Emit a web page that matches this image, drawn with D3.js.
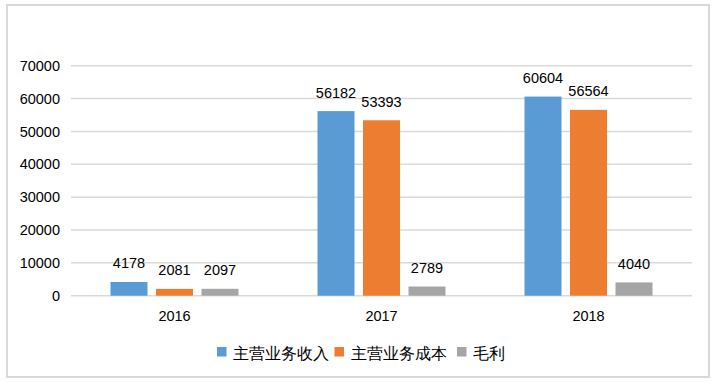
<!DOCTYPE html>
<html><head><meta charset="utf-8">
<script src="https://cdn.jsdelivr.net/npm/d3@7"></script>
<style>
html,body{margin:0;padding:0;background:#fff;}
svg text{font-family:"Liberation Sans","DejaVu Sans",sans-serif;}
</style></head>
<body><svg id="c" width="721" height="382"></svg>
<script>
const years = ["2016","2017","2018"];
const seriesNames = ["主营业务收入","主营业务成本","毛利"];
const revenue = [4178, 56182, 60604];
const cost = [2081, 53393, 56564];
const profit = [2097, 2789, 4040];
const yTicks = [0,10000,20000,30000,40000,50000,60000,70000];
const colors = ["#5B9BD5","#ED7D31","#A5A5A5"];

const seriesValues = [revenue, cost, profit];
const svg = d3.select("#c");

// chart border
svg.append("rect").attr("x",7).attr("y",5).attr("width",702).attr("height",372)
  .attr("fill","#fff").attr("stroke","#d9d9d9").attr("stroke-width",2);

const plotLeft = 71, plotRight = 692, plotTop = 65.7, plotBottom = 295.7;
const y = d3.scaleLinear().domain([0,70000]).range([plotBottom, plotTop]);
const x0 = d3.scaleBand().domain(years).range([plotLeft,plotRight]).padding(0);
const x1 = d3.scaleBand().domain(d3.range(3)).range([39.5, 167.5]).paddingInner(0.187).paddingOuter(0);

// gridlines
svg.append("g").selectAll("line").data(yTicks).join("line")
  .attr("x1",plotLeft).attr("x2",plotRight)
  .attr("y1",d=>y(d)).attr("y2",d=>y(d))
  .attr("stroke","#d9d9d9").attr("stroke-width",1.5);

// y axis labels
const yAxis = d3.axisLeft(y).tickValues(yTicks).tickSize(0).tickPadding(0).tickFormat(d3.format("d"));
const ya = svg.append("g").attr("transform","translate(60,0)").call(yAxis);
ya.select(".domain").remove();
ya.selectAll("text").attr("font-size",14.5).attr("fill","#000")
  .attr("font-family","Liberation Sans, DejaVu Sans, sans-serif");

// x axis labels
const xAxis = d3.axisBottom(x0).tickSize(0).tickPadding(0);
const xa = svg.append("g").attr("transform","translate(0,310.5)").call(xAxis);
xa.select(".domain").remove();
xa.selectAll("text").attr("font-size",14.5).attr("fill","#000")
  .attr("font-family","Liberation Sans, DejaVu Sans, sans-serif");

// bars
const groups = svg.append("g").selectAll("g").data(years).join("g")
  .attr("transform",d=>`translate(${x0(d)},0)`);
groups.selectAll("rect").data((d,i)=>seriesValues.map((s,k)=>({k,v:s[i]}))).join("rect")
  .attr("x",d=>x1(d.k)).attr("width",x1.bandwidth())
  .attr("y",d=>y(d.v)).attr("height",d=>plotBottom - y(d.v))
  .attr("fill",d=>colors[d.k]);
groups.selectAll("text").data((d,i)=>seriesValues.map((s,k)=>({k,v:s[i]}))).join("text")
  .attr("x",d=>x1(d.k)+x1.bandwidth()/2)
  .attr("y",d=>y(d.v)-13.5)
  .attr("text-anchor","middle").attr("font-size",14.5).attr("fill","#000")
  .text(d=>d.v);

// legend
const legendX = [217, 334.5, 457];
const lg = svg.append("g").selectAll("g").data(seriesNames).join("g")
  .attr("transform",(d,i)=>`translate(${legendX[i]},0)`);
lg.append("rect").attr("x",0).attr("y",347).attr("width",9.5).attr("height",9.5)
  .attr("fill",(d,i)=>colors[i]);
lg.append("text").attr("x",16).attr("y",358.5)
  .attr("font-size",15.8).attr("fill","#000")
  .attr("font-family","Noto Sans CJK SC, sans-serif")
  .text(d=>d);
</script></body></html>
